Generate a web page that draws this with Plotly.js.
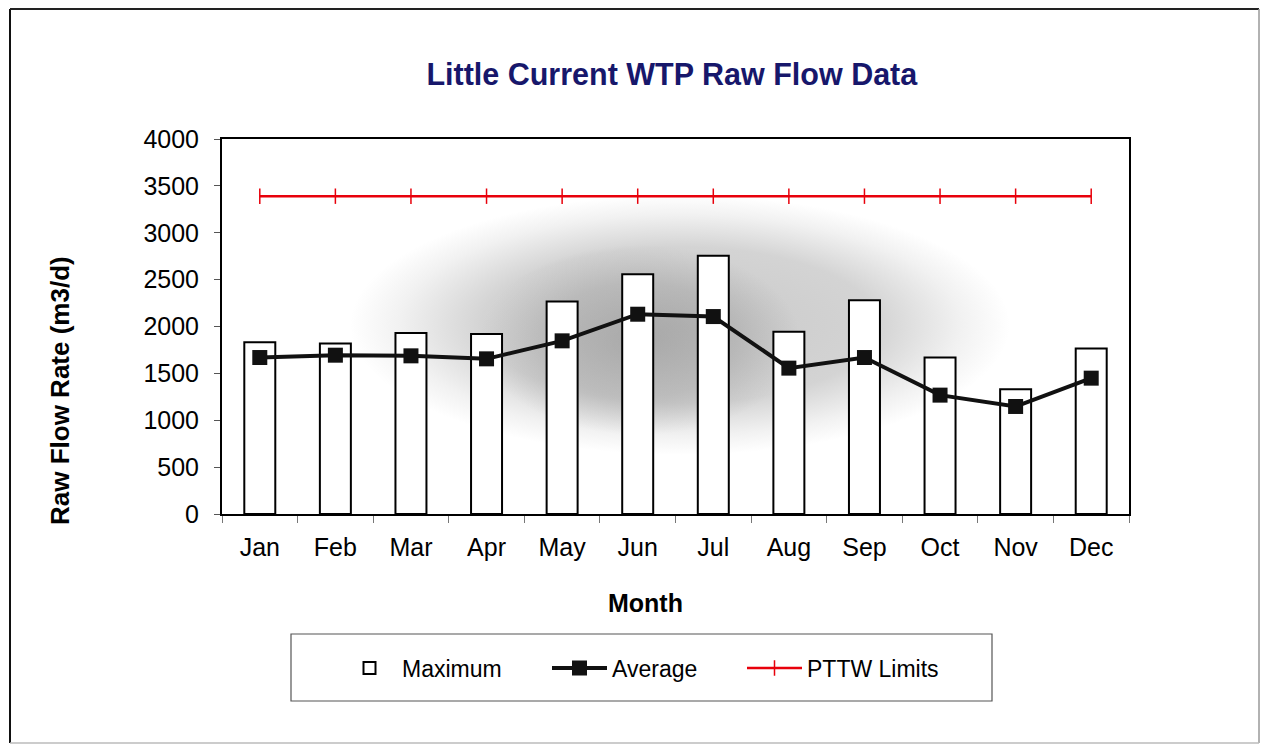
<!DOCTYPE html>
<html>
<head>
<meta charset="utf-8">
<script src="https://cdn.plot.ly/plotly-3.0.1.min.js"></script>
<style>
html,body{margin:0;padding:0;background:#fff;}
#chart{width:1264px;height:744px;}
</style>
</head>
<body>
<div id="chart"></div>
<script>
// ---- data ----
const months = ["Jan","Feb","Mar","Apr","May","Jun","Jul","Aug","Sep","Oct","Nov","Dec"];
const maximumFlow = [1833, 1818, 1932, 1921, 2266, 2558, 2756, 1943, 2281, 1669, 1332, 1765];
const averageFlow = [1669, 1694, 1687, 1655, 1847, 2131, 2106, 1556, 1669, 1268, 1147, 1449];
const pttwLimit = [3390, 3390, 3390, 3390, 3390, 3390, 3390, 3390, 3390, 3390, 3390, 3390];
const yTicks = [0, 500, 1000, 1500, 2000, 2500, 3000, 3500, 4000];

// ---- layout geometry (pixels) ----
const W = 1264, H = 744;
const L = 222, R = 1129, T = 139, B = 514;
const pw = R - L, ph = B - T;
const px = x => (x - L) / pw;
const py = y => (B - y) / ph;

// soft grey shading behind the bars (decorative background)
function shading() {
  const c = document.createElement('canvas');
  c.width = pw; c.height = ph;
  const ctx = c.getContext('2d');
  ctx.fillStyle = '#ffffff';
  ctx.fillRect(0, 0, pw, ph);
  const blob = (cx, cy, rx, ry, stops) => {
    ctx.save();
    ctx.translate(cx, cy);
    ctx.scale(rx / ry, 1);
    const g = ctx.createRadialGradient(0, 0, 0, 0, 0, ry);
    stops.forEach(s => g.addColorStop(s[0], 'rgba(120,120,120,' + s[1] + ')'));
    ctx.fillStyle = g;
    ctx.beginPath();
    ctx.arc(0, 0, ry, 0, Math.PI * 2);
    ctx.fill();
    ctx.restore();
  };
  blob(680 - L, 325 - T, 330, 130, [[0, 0.4], [0.6, 0.32], [0.85, 0.1], [1, 0]]);
  blob(640 - L, 340 - T, 160, 95, [[0, 0.42], [0.6, 0.25], [1, 0]]);
  return c.toDataURL('image/png');
}

const fontFam = '"Liberation Sans", Arial, sans-serif';

const traces = [
  {
    type: 'bar', name: 'Maximum', x: months, y: maximumFlow, legend: 'legend',
    marker: {color: '#ffffff', line: {color: '#000000', width: 2}},
    hoverinfo: 'x+y'
  },
  {
    type: 'scatter', mode: 'lines+markers', name: 'Average', x: months, y: averageFlow, legend: 'legend2',
    line: {color: '#111111', width: 4},
    marker: {symbol: 'square', size: 15, color: '#111111'}
  },
  {
    type: 'scatter', mode: 'lines+markers', name: 'PTTW Limits', x: months, y: pttwLimit, legend: 'legend3',
    line: {color: '#e8000b', width: 2.5},
    marker: {symbol: 'line-ns-open', size: 11, color: '#e8000b', line: {color: '#e8000b', width: 1.5}}
  }
];

const legendBase = x => ({
  orientation: 'h', x: px(x), xanchor: 'left', y: py(668), yanchor: 'middle',
  bgcolor: 'rgba(0,0,0,0)', borderwidth: 0,
  font: {family: fontFam, size: 23, color: '#000000'},
  itemwidth: 55
});

const layout = {
  width: W, height: H,
  margin: {l: L, r: W - R, t: T, b: H - B, pad: 0},
  paper_bgcolor: '#ffffff',
  plot_bgcolor: 'rgba(0,0,0,0)',
  font: {family: fontFam, color: '#000000', size: 24},
  showlegend: true,
  bargap: 0.59,
  title: {
    text: 'Little Current WTP Raw Flow Data',
    font: {family: fontFam, size: 30.5, color: '#17176b', weight: 700},
    x: 0.5315, xanchor: 'center', y: 1 - 74 / H, yanchor: 'middle', yref: 'container'
  },
  xaxis: {
    type: 'category', categoryorder: 'array', categoryarray: months,
    range: [-0.5, 11.5], autorange: false,
    showline: true, linecolor: '#000000', linewidth: 2, mirror: true,
    ticks: 'outside', tickson: 'boundaries', ticklen: 7, tickcolor: '#777777', tickwidth: 1,
    ticklabelstandoff: 10,
    tickfont: {family: fontFam, size: 25, color: '#000000'},
    showgrid: false, zeroline: false, fixedrange: true
  },
  yaxis: {
    range: [0, 4000], autorange: false, tickvals: yTicks, ticktext: yTicks.map(String),
    showline: true, linecolor: '#000000', linewidth: 2, mirror: true,
    ticks: 'outside', ticklen: 6, tickcolor: '#555555', tickwidth: 1,
    ticklabelstandoff: 10,
    tickfont: {family: fontFam, size: 25, color: '#000000'},
    showgrid: false, zeroline: false, fixedrange: true
  },
  legend: legendBase(337),
  legend2: legendBase(547),
  legend3: legendBase(742),
  images: [{
    source: shading(), xref: 'paper', yref: 'paper', x: 0, y: 1, sizex: 1, sizey: 1,
    xanchor: 'left', yanchor: 'top', sizing: 'stretch', layer: 'below'
  }],
  annotations: [
    {text: 'Month', xref: 'paper', yref: 'paper', x: px(645), y: py(603), xanchor: 'center', yanchor: 'middle',
     showarrow: false, font: {family: fontFam, size: 25, color: '#000000', weight: 700}},
    {text: 'Raw Flow Rate (m3/d)', xref: 'paper', yref: 'paper', x: px(60), y: py(391), xanchor: 'center', yanchor: 'middle',
     textangle: -90, showarrow: false, font: {family: fontFam, size: 26, color: '#000000', weight: 700}}
  ],
  shapes: [
    // legend frame
    {type: 'rect', xref: 'paper', yref: 'paper', x0: px(291), x1: px(992), y0: py(701), y1: py(634),
     line: {color: '#555555', width: 1.2}, fillcolor: 'rgba(0,0,0,0)', layer: 'below'},
    // outer chart frame
    {type: 'line', xref: 'paper', yref: 'paper', x0: px(10), x1: px(10), y0: py(743), y1: py(9), line: {color: '#111111', width: 2}},
    {type: 'line', xref: 'paper', yref: 'paper', x0: px(10), x1: px(1259), y0: py(9), y1: py(9), line: {color: '#222222', width: 2}},
    {type: 'line', xref: 'paper', yref: 'paper', x0: px(1259), x1: px(1259), y0: py(9), y1: py(743), line: {color: '#999999', width: 1.5}},
    {type: 'line', xref: 'paper', yref: 'paper', x0: px(10), x1: px(1259), y0: py(743), y1: py(743), line: {color: '#bbbbbb', width: 1.5}}
  ]
};

Plotly.newPlot('chart', traces, layout, {displayModeBar: false, staticPlot: true});
</script>
</body>
</html>
